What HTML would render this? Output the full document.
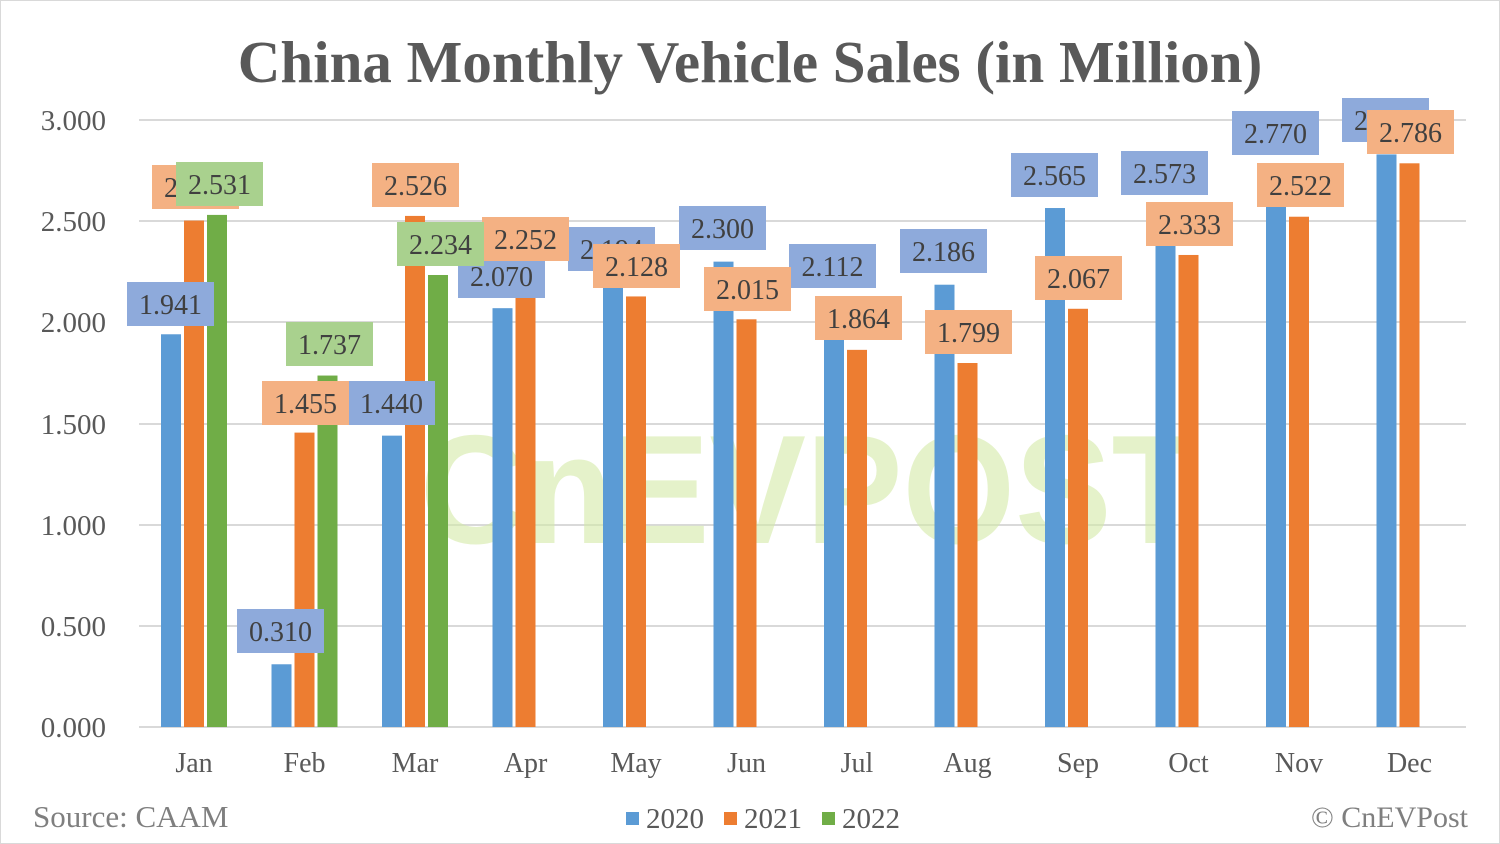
<!DOCTYPE html><html><head><style>body{margin:0;background:#fff}svg{display:block}</style></head><body>
<svg width="1500" height="844" xmlns="http://www.w3.org/2000/svg" font-family="Liberation Serif, serif">
<rect x="0.5" y="0.5" width="1499" height="843" fill="#fff" stroke="#d9d9d9"/>
<text x="750" y="82" text-anchor="middle" font-size="59" font-weight="bold" fill="#595959">China Monthly Vehicle Sales (in Million)</text>
<g stroke="#d9d9d9" stroke-width="2">
<line x1="139" x2="1466" y1="120" y2="120"/><line x1="139" x2="1466" y1="221" y2="221"/><line x1="139" x2="1466" y1="322" y2="322"/><line x1="139" x2="1466" y1="424" y2="424"/><line x1="139" x2="1466" y1="525" y2="525"/><line x1="139" x2="1466" y1="626" y2="626"/><line x1="139" x2="1466" y1="727" y2="727"/>
</g>
<g font-size="29" fill="#595959" text-anchor="end">
<text x="106" y="130">3.000</text><text x="106" y="231">2.500</text><text x="106" y="332">2.000</text><text x="106" y="434">1.500</text><text x="106" y="535">1.000</text><text x="106" y="636">0.500</text><text x="106" y="737">0.000</text>
</g>
<text x="810" y="543" text-anchor="middle" textLength="780" lengthAdjust="spacingAndGlyphs" font-family="Liberation Sans, sans-serif" font-size="155" font-weight="bold" fill="#d4eaa8" opacity="0.6">CnEVPOST</text>
<g id="bars"></g>
<g id="labels" font-size="28" fill="#404040" text-anchor="middle"></g>
<g font-size="28" fill="#595959" text-anchor="middle" id="cats"></g>
<text x="33" y="827" font-size="31" fill="#7f7f7f">Source: CAAM</text>
<text x="1468" y="827" font-size="30" fill="#7f7f7f" text-anchor="end">© CnEVPost</text>
<g font-size="29" fill="#595959">
<rect x="626" y="812" width="13" height="13" fill="#5b9bd5"/><text x="646" y="828">2020</text>
<rect x="724" y="812" width="13" height="13" fill="#ed7d31"/><text x="744" y="828">2021</text>
<rect x="822" y="812" width="13" height="13" fill="#70ad47"/><text x="842" y="828">2022</text>
</g>
<script>
var ns="http://www.w3.org/2000/svg";
var d0=[1.941,.310,1.440,2.070,2.194,2.300,2.112,2.186,2.565,2.573,2.770,2.830];
var d1=[2.503,1.455,2.526,2.252,2.128,2.015,1.864,1.799,2.067,2.333,2.522,2.786];
var d2=[2.531,1.737,2.234];
var cats=["Jan","Feb","Mar","Apr","May","Jun","Jul","Aug","Sep","Oct","Nov","Dec"];
var cols=["#5b9bd5","#ed7d31","#70ad47"];
var B=document.getElementById("bars"),L=document.getElementById("labels"),C=document.getElementById("cats");
function el(p,t,a,txt){var e=document.createElementNS(ns,t);for(var k in a)e.setAttribute(k,a[k]);if(txt!=null)e.textContent=txt;p.appendChild(e);}
[d0,d1,d2].forEach(function(d,s){d.forEach(function(v,i){var c=194+i*110.5;var x=c-33+s*23;var h=v*202.33;el(B,"rect",{x:x,y:727-h,width:20,height:h,fill:cols[s]});});});
cats.forEach(function(n,i){el(C,"text",{x:194+i*110.5,y:772},n);});
var lab=[
["b",127,282,"1.941"],["b",237,609,"0.310"],["b",348,381,"1.440"],["b",458,254,"2.070"],["b",568,227,"2.194"],["b",679,206,"2.300"],["b",789,244,"2.112"],["b",900,229,"2.186"],["b",1011,153,"2.565"],["b",1121,151,"2.573"],["b",1232,111,"2.770"],["b",1342,98,"2.830"],
["o",152,165,"2.503"],["o",262,381,"1.455"],["o",372,163,"2.526"],["o",482,217,"2.252"],["o",593,244,"2.128"],["o",704,267,"2.015"],["o",815,296,"1.864"],["o",925,310,"1.799"],["o",1035,256,"2.067"],["o",1146,202,"2.333"],["o",1257,163,"2.522"],["o",1367,110,"2.786"],
["g",176,162,"2.531"],["g",286,322,"1.737"],["g",397,222,"2.234"]];
var lc={b:"#8eaadb",o:"#f4b183",g:"#a9d18e"};
lab.forEach(function(l){el(L,"rect",{x:l[1],y:l[2],width:87,height:44,fill:lc[l[0]]});el(L,"text",{x:l[1]+43.5,y:l[2]+32},l[3]);});
</script>
</svg></body></html>
